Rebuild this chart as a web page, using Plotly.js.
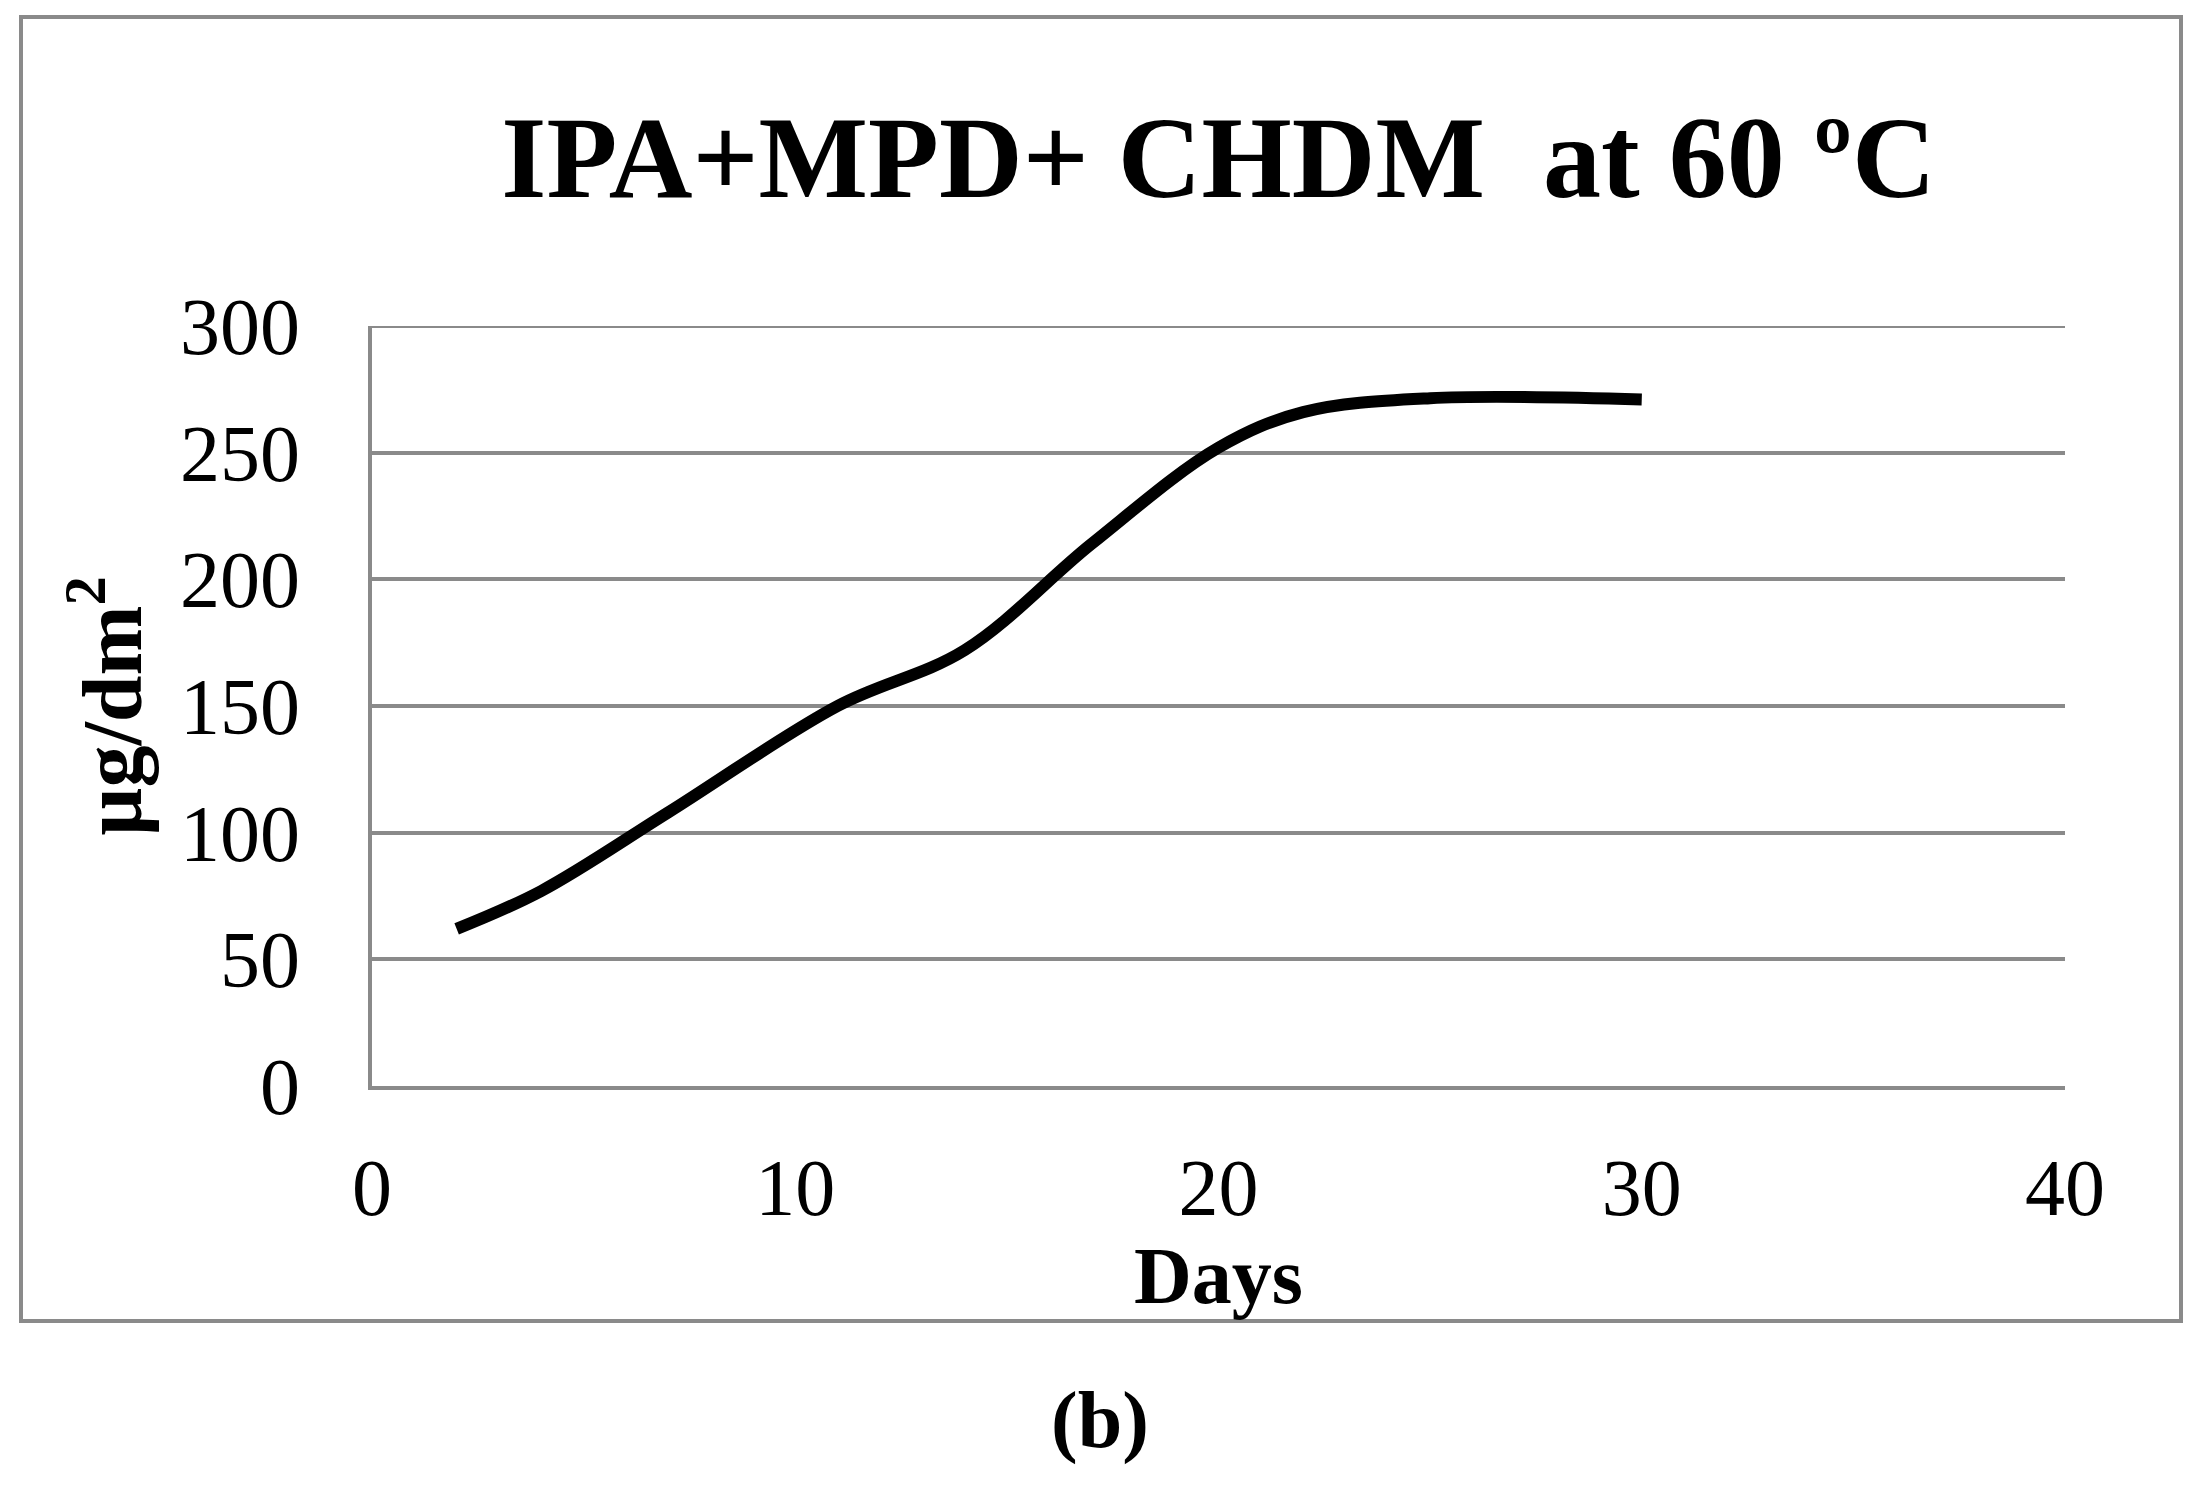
<!DOCTYPE html>
<html>
<head>
<meta charset="utf-8">
<script src="https://cdn.plot.ly/plotly-3.0.1.min.js"></script>
<style>html,body{margin:0;padding:0;background:#fff;}#chart{width:2203px;height:1485px;}</style>
</head>
<body>
<div id="chart"></div>
<script>
const days = [2, 4, 7, 11, 14, 17, 20, 22, 25, 30];
const migration = [62, 77, 108, 150, 172, 214, 252, 266, 271.5, 271];
const xTicks = [0, 10, 20, 30, 40];
const yTicks = [0, 50, 100, 150, 200, 250, 300];
const chartTitle = 'IPA+MPD+ CHDM  at 60 ºC';
const xTitle = 'Days';
const yTitle = 'µg/dm<sup>2</sup>';
const panelLabel = '(b)';

const W = 2203, H = 1485;
const M = {l: 372, r: 138, t: 326, b: 399};
const pw = W - M.l - M.r, ph = H - M.t - M.b;
const px = v => (v - M.l) / pw;
const py = v => (H - M.b - v) / ph;

const serif = '"Liberation Serif", "Times New Roman", serif';
const grey = '#8a8a8a';

const trace = {
  x: days, y: migration, type: 'scatter', mode: 'lines',
  line: {color: '#000', width: 12, shape: 'spline', smoothing: 1},
  hoverinfo: 'x+y', showlegend: false
};

const layout = {
  width: W, height: H,
  margin: M,
  paper_bgcolor: '#fff', plot_bgcolor: '#fff',
  font: {family: serif, color: '#000', size: 80},
  title: {text: '<b>' + chartTitle + '</b>', font: {family: serif, size: 116, color: '#000'},
          x: 0.5, xref: 'paper', xanchor: 'center', y: 1 - 156 / H, yref: 'container', yanchor: 'middle'},
  xaxis: {
    range: [0, 40], tickvals: xTicks, ticktext: xTicks.map(String),
    showgrid: false, zeroline: false, showline: true, linecolor: grey, linewidth: 4,
    ticks: '', ticklabelstandoff: 29,
    tickfont: {family: serif, size: 80, color: '#000'},
    title: {text: '<b>' + xTitle + '</b>', font: {family: serif, size: 80, color: '#000'}, standoff: 0}
  },
  yaxis: {
    range: [0, 300], tickvals: yTicks, ticktext: yTicks.map(String),
    showgrid: true, gridcolor: grey, gridwidth: 4, zeroline: false,
    showline: true, linecolor: grey, linewidth: 4,
    ticks: '', ticklabelstandoff: 52,
    tickfont: {family: serif, size: 80, color: '#000'},
    title: {text: '<b>' + yTitle + '</b>', font: {family: serif, size: 84, color: '#000'}, standoff: 12}
  },
  shapes: [{
    type: 'rect', xref: 'paper', yref: 'paper',
    x0: px(21), x1: px(2181), y0: py(1321), y1: py(17),
    line: {color: grey, width: 4}, fillcolor: 'rgba(0,0,0,0)', layer: 'below'
  }, {
    type: 'line', xref: 'paper', yref: 'y',
    x0: 0, x1: 1, y0: yTicks[yTicks.length - 1], y1: yTicks[yTicks.length - 1],
    line: {color: grey, width: 4}, layer: 'below'
  }],
  annotations: [{
    text: '<b>' + panelLabel + '</b>', xref: 'paper', yref: 'paper',
    x: px(1100), y: py(1420), xanchor: 'center', yanchor: 'middle',
    showarrow: false, font: {family: serif, size: 80, color: '#000'}
  }]
};

Plotly.newPlot('chart', [trace], layout, {displayModeBar: false, staticPlot: true});
</script>
</body>
</html>
